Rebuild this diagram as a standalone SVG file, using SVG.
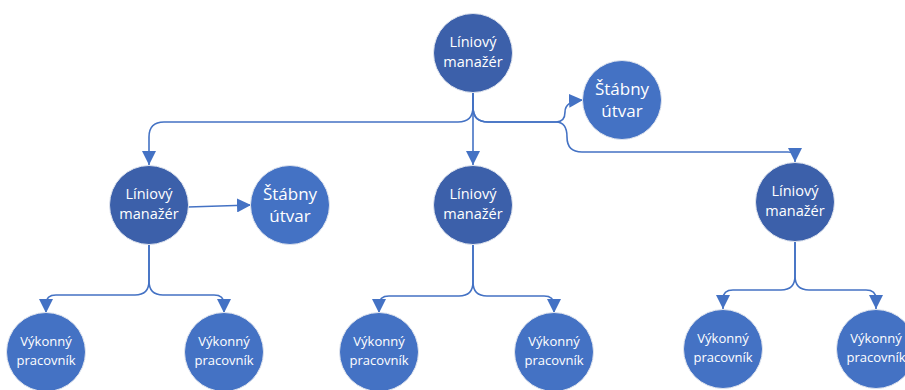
<svg xmlns="http://www.w3.org/2000/svg" width="905" height="390" viewBox="0 0 905 390">
  <defs>
    <marker id="arrow" markerUnits="userSpaceOnUse" markerWidth="14" markerHeight="14" viewBox="0 0 12 12" refX="12" refY="6" orient="auto">
      <path d="M0,0 L12,6 L0,12 Z" fill="#4472C4"/>
    </marker>
    <style>
      .mgr { fill: #3C60AA; stroke: #dfe4ee; stroke-width: 1; }
      .staff { fill: #4472C4; stroke: #dfe4ee; stroke-width: 1; }
      .worker { fill: #4472C4; stroke: #dfe4ee; stroke-width: 1; }
      .link { fill: none; stroke: #4472C4; stroke-width: 1.6; marker-end: url(#arrow); }
      text { fill: #ffffff; font-family: "Open Sans", "Liberation Sans", sans-serif; text-anchor: middle; }
      .t-mgr { font-size: 14.5px; }
      .t-staff { font-size: 17px; }
      .t-worker { font-size: 13px; }
    </style>
  </defs>

  <!-- connectors -->
  <g id="connectors">
    <path class="link" d="M473,92 V165"/>
    <path class="link" d="M473,92 V107 Q473,122 458,122 H164 Q149,122 149,137 V165"/>
    <path class="link" d="M473,92 V107 Q473,122 488,122 H556 Q565,122 565,112 Q565,101 583,100"/>
    <path class="link" d="M473,92 V107 Q473,122 488,122 H556 Q567,122 567,137 Q567,152 582,152 H788 Q795,152 795,158 V162"/>
    <path class="link" d="M188,207 L251,205"/>

    <path class="link" d="M149,245 V281 Q149,295 135,295 H56 Q46,295 46,304 V313"/>
    <path class="link" d="M149,245 V281 Q149,295 163,295 H214 Q224,295 224,304 V313"/>

    <path class="link" d="M473,245 V282 Q473,296 459,296 H389 Q379,296 379,305 V313"/>
    <path class="link" d="M473,245 V282 Q473,296 487,296 H544 Q554,296 554,305 V313"/>

    <path class="link" d="M795,242 V276 Q795,290 781,290 H733 Q723,290 723,299 V309"/>
    <path class="link" d="M795,242 V276 Q795,290 809,290 H866 Q876,290 876,299 V309"/>
  </g>

  <!-- top line manager -->
  <g id="mgr-top">
    <circle class="mgr" cx="473" cy="53" r="39.5"/>
    <text class="t-mgr" x="473" y="47">Líniový</text>
    <text class="t-mgr" x="473" y="67">manažér</text>
  </g>
  <g id="staff-top">
    <circle class="staff" cx="622" cy="100" r="39.5"/>
    <text class="t-staff" x="622" y="95">Štábny</text>
    <text class="t-staff" x="622" y="117">útvar</text>
  </g>

  <!-- second level managers -->
  <g id="mgr-left">
    <circle class="mgr" cx="149" cy="205" r="39.5"/>
    <text class="t-mgr" x="149" y="199">Líniový</text>
    <text class="t-mgr" x="149" y="219">manažér</text>
  </g>
  <g id="staff-left">
    <circle class="staff" cx="290" cy="205" r="39.5"/>
    <text class="t-staff" x="290" y="200">Štábny</text>
    <text class="t-staff" x="290" y="222">útvar</text>
  </g>
  <g id="mgr-mid">
    <circle class="mgr" cx="473" cy="205" r="39.5"/>
    <text class="t-mgr" x="473" y="199">Líniový</text>
    <text class="t-mgr" x="473" y="219">manažér</text>
  </g>
  <g id="mgr-right">
    <circle class="mgr" cx="795" cy="202" r="39.5"/>
    <text class="t-mgr" x="795" y="196">Líniový</text>
    <text class="t-mgr" x="795" y="216">manažér</text>
  </g>

  <!-- workers -->
  <g id="worker-1">
    <circle class="worker" cx="46" cy="352" r="39.5"/>
    <text class="t-worker" x="46" y="346">Výkonný</text>
    <text class="t-worker" x="46" y="365">pracovník</text>
  </g>
  <g id="worker-2">
    <circle class="worker" cx="224" cy="352" r="39.5"/>
    <text class="t-worker" x="224" y="346">Výkonný</text>
    <text class="t-worker" x="224" y="365">pracovník</text>
  </g>
  <g id="worker-3">
    <circle class="worker" cx="379" cy="352" r="39.5"/>
    <text class="t-worker" x="379" y="346">Výkonný</text>
    <text class="t-worker" x="379" y="365">pracovník</text>
  </g>
  <g id="worker-4">
    <circle class="worker" cx="554" cy="352" r="39.5"/>
    <text class="t-worker" x="554" y="346">Výkonný</text>
    <text class="t-worker" x="554" y="365">pracovník</text>
  </g>
  <g id="worker-5">
    <circle class="worker" cx="723" cy="349" r="39.5"/>
    <text class="t-worker" x="723" y="343">Výkonný</text>
    <text class="t-worker" x="723" y="362">pracovník</text>
  </g>
  <g id="worker-6">
    <circle class="worker" cx="876" cy="349" r="39.5"/>
    <text class="t-worker" x="876" y="343">Výkonný</text>
    <text class="t-worker" x="876" y="362">pracovník</text>
  </g>
</svg>
